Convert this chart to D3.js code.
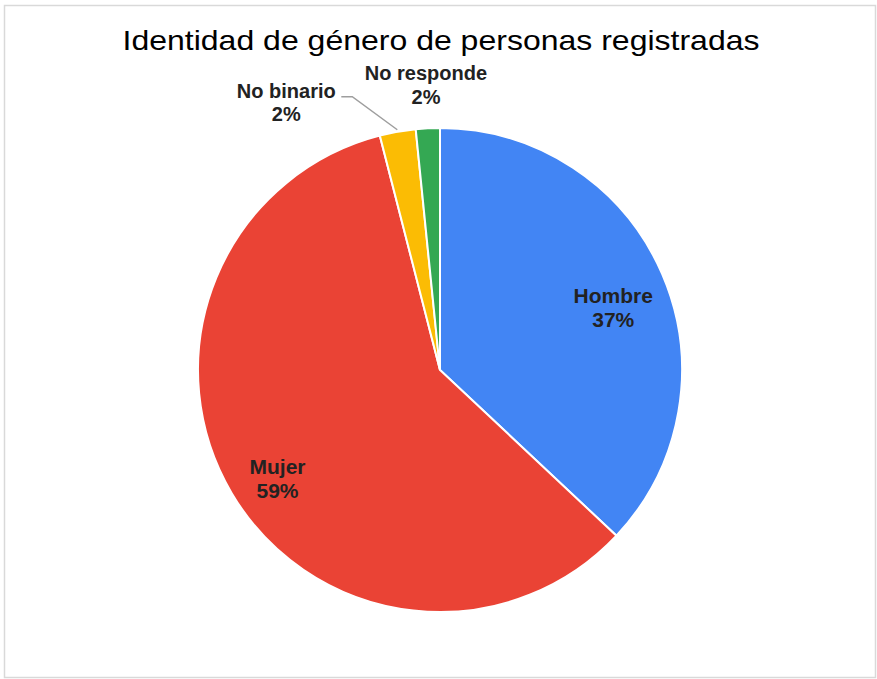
<!DOCTYPE html>
<html>
<head>
<meta charset="utf-8">
<script src="https://cdn.jsdelivr.net/npm/d3@7"></script>
<style>
  body { margin:0; background:#fff; }
  text { font-family:'Liberation Sans', Arial, sans-serif; }
</style>
</head>
<body>
<div class="plot"></div>
<script>
var categories = ['Hombre','Mujer','No binario','No responde'],
    values = [37.0, 59.0, 2.4, 1.6],
    pctLabels = ['37%','59%','2%','2%'],
    colors = ['#4285f4','#ea4335','#fbbc04','#34a853'];

var W = 877, H = 679,
    cx = 440, cy = 370, R = 242;

var data = categories.map(function(d,i){return {name:d, value:values[i], pct:pctLabels[i], color:colors[i]}});

var svg = d3.select('.plot').append('svg')
    .attr('width',W)
    .attr('height',H);

svg.append('rect')
    .attr('x',4.5).attr('y',5.5)
    .attr('width',871).attr('height',672)
    .attr('fill','#fff')
    .attr('stroke','#d9d9d9')
    .attr('stroke-width',1.5);

svg.append('text')
    .attr('x',441).attr('y',50)
    .attr('text-anchor','middle')
    .attr('font-size',28)
    .attr('textLength',637)
    .attr('lengthAdjust','spacingAndGlyphs')
    .attr('fill','#000')
    .text('Identidad de género de personas registradas');

var pie = d3.pie().sort(null).value(function(d){return d.value});
var arcs = pie(data);

var arc = d3.arc().innerRadius(0).outerRadius(R);
var labelArc = d3.arc().innerRadius(R*0.78).outerRadius(R*0.78);
var edgeArc = d3.arc().innerRadius(R+2).outerRadius(R+2);
var outArc = d3.arc().innerRadius(R+37).outerRadius(R+37);

var g = svg.append('g')
    .attr('transform','translate('+cx+','+cy+')');

g.selectAll('path')
    .data(arcs)
    .enter()
    .append('path')
    .attr('d',arc)
    .attr('fill',function(d){return d.data.color})
    .attr('stroke','#fff')
    .attr('stroke-width',2);

// big slices: labels inside
var inside = arcs.filter(function(d){return d.data.value > 10});
var insideLab = g.selectAll('.inlab')
    .data(inside)
    .enter()
    .append('text')
    .attr('class','inlab')
    .attr('text-anchor','middle')
    .attr('font-size',21)
    .attr('font-weight','bold')
    .attr('fill','#222')
    .attr('transform',function(d){
        var c = labelArc.centroid(d);
        return 'translate('+c[0]+','+(c[1]+8)+')';
    });
insideLab.append('tspan').attr('x',0).attr('dy',0).text(function(d){return d.data.name});
insideLab.append('tspan').attr('x',0).attr('dy',24).text(function(d){return d.data.pct});

// small slices: labels outside
var outside = arcs.filter(function(d){return d.data.value <= 10});
outside.forEach(function(d,i){
    var last = i == outside.length-1;
    var c = outArc.centroid(d), lx, ly;
    if (last) {
        lx = c[0]; ly = c[1] - 11;
    } else {
        var e = edgeArc.centroid(d);
        var elbow = [e[0]-45, e[1]-33];
        g.append('polyline')
            .attr('points',[e, elbow, [elbow[0]-11, elbow[1]]].map(function(p){return p.join(',')}).join(' '))
            .attr('fill','none')
            .attr('stroke','#9e9e9e')
            .attr('stroke-width',1.5);
        lx = elbow[0] - 66; ly = elbow[1] + 1;
    }
    var t = g.append('text')
        .attr('text-anchor','middle')
        .attr('font-size',20)
        .attr('font-weight','bold')
        .attr('fill','#222')
        .attr('transform','translate('+lx+','+ly+')');
    t.append('tspan').attr('x',0).attr('dy',0).text(d.data.name);
    t.append('tspan').attr('x',0).attr('dy',23.5).text(d.data.pct);
});
</script>
</body>
</html>
